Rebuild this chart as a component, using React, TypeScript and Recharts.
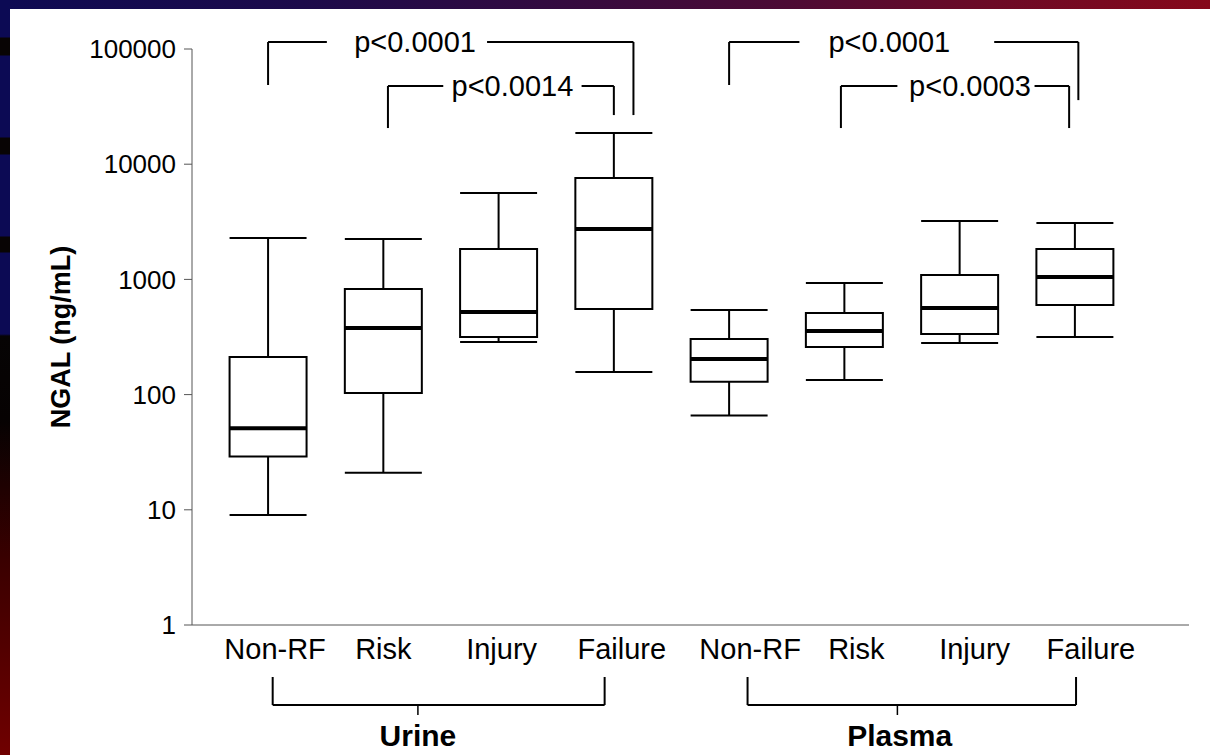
import React from 'react';
import {
  ComposedChart,
  XAxis,
  YAxis,
  Scatter,
  ReferenceArea,
  ReferenceLine,
  ReferenceDot,
} from 'recharts';

// ---- data -------------------------------------------------------------
const categories = ['Non-RF', 'Risk', 'Injury', 'Failure', 'Non-RF', 'Risk', 'Injury', 'Failure'];
const groupNames = ['Urine', 'Plasma'];
const whiskerLow = [9, 21, 286, 157, 66, 134, 281, 316];
const quartile1 = [29, 103, 316, 553, 129, 259, 336, 600];
const medians = [51, 378, 521, 2738, 204, 357, 565, 1050];
const quartile3 = [212, 826, 1836, 7590, 304, 511, 1092, 1836];
const whiskerHigh = [2290, 2240, 5620, 18660, 542, 931, 3210, 3090];
const yTicks = [1, 10, 100, 1000, 10000, 100000];
const pLabels = ['p<0.0001', 'p<0.0014', 'p<0.0001', 'p<0.0003'];

// ---- layout (data units of the two axes) ------------------------------
const FONT = '"Liberation Sans", Arial, Helvetica, sans-serif';
const BOX_HALF = 0.334;
const tickNudge = [7, 0, 3, 8, 21, 12, 15, 16];

// significance brackets above the boxes
const brackets = [
  { x1: 1.0, x2: 4.17, top: 115000, leftDrop: 48700, rightDrop: 26700, gapFrom: 1.51, gapTo: 2.9, text: 2.275 },
  { x1: 2.04, x2: 4.0, top: 47750, leftDrop: 20600, rightDrop: 26700, gapFrom: 2.52, gapTo: 3.72, text: 3.12 },
  { x1: 5.0, x2: 8.03, top: 115000, leftDrop: 48700, rightDrop: 36000, gapFrom: 5.61, gapTo: 7.3, text: 6.39 },
  { x1: 5.97, x2: 7.95, top: 47750, leftDrop: 20600, rightDrop: 20600, gapFrom: 6.46, gapTo: 7.65, text: 7.09 },
];

// sample-type brackets under the category labels
const groupBrackets = [
  { x1: 1.04, x2: 3.92, mid: 2.3, label: 2.3 },
  { x1: 5.16, x2: 8.01, mid: 6.46, label: 6.48 },
];
const GB_TOP = 0.3537;
const GB_BOTTOM = 0.2021;
const GB_TICK = 0.1655;
const GB_LABEL = 0.111;

const rows = categories.map((c, i) => ({ pos: i + 1, name: c, median: medians[i] }));

const XTick = (props: any) => {
  const { x, y, payload, index } = props;
  return (
    <text
      x={x + (tickNudge[index] || 0)}
      y={y + 26}
      textAnchor="middle"
      fontSize={29}
      fontFamily={FONT}
      fill="#000"
    >
      {categories[payload.value - 1]}
    </text>
  );
};

const seg = (key: string, xa: number, ya: number, xb: number, yb: number, w = 2) => (
  <ReferenceLine
    key={key}
    segment={[{ x: xa, y: ya }, { x: xb, y: yb }]}
    stroke="#000"
    strokeWidth={w}
    ifOverflow="visible"
  />
);

const textAt = (key: string, x: number, y: number, value: string, size: number, bold = false) => (
  <ReferenceDot
    key={key}
    x={x}
    y={y}
    r={1}
    fill="none"
    stroke="none"
    ifOverflow="visible"
    label={{
      value,
      position: 'center',
      fill: '#000',
      fontSize: size,
      fontFamily: FONT,
      fontWeight: bold ? 'bold' : 'normal',
    }}
  />
);

export default function App() {
  const pos = (i: number) => i + 1;
  return (
    <div style={{ position: 'absolute', left: 0, top: 0, width: 1210, height: 755, background: '#fff', overflow: 'hidden' }}>
      <div
        style={{
          position: 'absolute', left: 0, top: 0, width: 1210, height: 9,
          background: 'linear-gradient(to right, #0e0a52 0%, #1c0a4a 25%, #320a40 45%, #4c0a34 65%, #6c0a26 82%, #86081a 100%)',
        }}
      />
      <div
        style={{
          position: 'absolute', left: 0, top: 0, width: 10, height: 755,
          background:
            'linear-gradient(to bottom, #0c0a54 0px, #0c0a54 37px, #080404 38px, #080404 55px, #0c0a54 56px, #0c0a54 137px, #080404 138px, #080404 154px, #0c0a54 155px, #0c0a54 236px, #080404 237px, #080404 252px, #0c0a54 253px, #0c0a54 334px, #060404 336px, #060202 420px, #3a0000 560px, #700000 755px)',
        }}
      />
      <div style={{ position: 'absolute', left: 0, top: 0 }}>
        <ComposedChart
          width={1210}
          height={755}
          data={rows}
          margin={{ top: 49, right: 21, bottom: 90, left: 112 }}
        >
          <XAxis
            dataKey="pos"
            type="number"
            domain={[0.34, 8.99]}
            ticks={[1, 2, 3, 4, 5, 6, 7, 8]}
            interval={0}
            allowDataOverflow
            height={40}
            tickLine={false}
            axisLine={{ stroke: '#555', strokeWidth: 1 }}
            tick={<XTick />}
          />
          <YAxis
            type="number"
            scale="log"
            domain={[1, 100000]}
            ticks={yTicks}
            interval={0}
            allowDataOverflow
            width={80}
            tickSize={8}
            tickMargin={8}
            axisLine={{ stroke: '#555', strokeWidth: 1 }}
            tickLine={{ stroke: '#555', strokeWidth: 1 }}
            tick={{ fill: '#000', fontSize: 26, fontFamily: FONT }}
            tickFormatter={(v: number) => String(v)}
            label={{
              value: 'NGAL (ng/mL)',
              angle: -90,
              position: 'left',
              offset: 52,
              fill: '#000',
              fontSize: 27,
              fontWeight: 'bold',
              fontFamily: FONT,
              style: { textAnchor: 'middle' },
            }}
          />
          <Scatter dataKey="median" isAnimationActive={false} shape={() => <g />} />

          {/* whiskers and caps */}
          {categories.map((_, i) => [
            seg(`wl${i}`, pos(i), whiskerLow[i], pos(i), quartile1[i]),
            seg(`wh${i}`, pos(i), quartile3[i], pos(i), whiskerHigh[i]),
            seg(`cl${i}`, pos(i) - BOX_HALF, whiskerLow[i], pos(i) + BOX_HALF, whiskerLow[i]),
            seg(`ch${i}`, pos(i) - BOX_HALF, whiskerHigh[i], pos(i) + BOX_HALF, whiskerHigh[i]),
          ])}

          {/* interquartile boxes */}
          {categories.map((_, i) => (
            <ReferenceArea
              key={`box${i}`}
              x1={pos(i) - BOX_HALF}
              x2={pos(i) + BOX_HALF}
              y1={quartile1[i]}
              y2={quartile3[i]}
              fill="none"
              fillOpacity={0}
              stroke="#000"
              strokeWidth={2}
              ifOverflow="visible"
            />
          ))}

          {/* medians */}
          {categories.map((_, i) => seg(`md${i}`, pos(i) - BOX_HALF, medians[i], pos(i) + BOX_HALF, medians[i], 4))}

          {/* significance brackets */}
          {brackets.map((b, i) => [
            seg(`bl${i}`, b.x1, b.leftDrop, b.x1, b.top),
            seg(`bh1${i}`, b.x1, b.top, b.gapFrom, b.top),
            seg(`bh2${i}`, b.gapTo, b.top, b.x2, b.top),
            seg(`br${i}`, b.x2, b.top, b.x2, b.rightDrop),
            textAt(`bt${i}`, b.text, b.top, pLabels[i], 29),
          ])}

          {/* sample-type brackets */}
          {groupBrackets.map((g, i) => [
            seg(`gl${i}`, g.x1, GB_TOP, g.x1, GB_BOTTOM),
            seg(`gh${i}`, g.x1, GB_BOTTOM, g.x2, GB_BOTTOM),
            seg(`gr${i}`, g.x2, GB_BOTTOM, g.x2, GB_TOP),
            seg(`gt${i}`, g.mid, GB_BOTTOM, g.mid, GB_TICK, 1.5),
            textAt(`gn${i}`, g.label, GB_LABEL, groupNames[i], 30, true),
          ])}
        </ComposedChart>
      </div>
    </div>
  );
}
